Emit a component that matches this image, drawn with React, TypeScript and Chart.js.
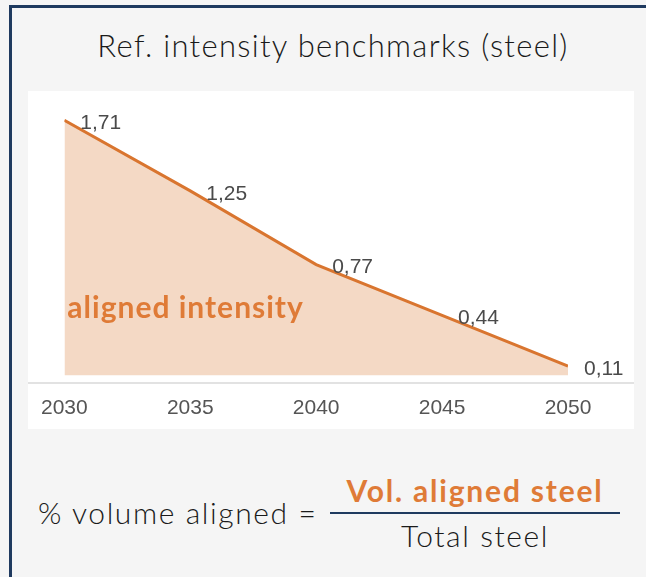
import React, { useEffect, useRef } from "react";
import { Chart, registerables } from "chart.js";

Chart.register(...registerables);

const years = [2030, 2035, 2040, 2045, 2050];
const intensity = [1.71, 1.25, 0.77, 0.44, 0.11];
const valueLabels = ["1,71", "1,25", "0,77", "0,44", "0,11"];
const titleText = "Ref. intensity benchmarks (steel)";
const areaLabel = "aligned intensity";

const ORANGE_LINE = "#d9752f";
const ORANGE_TEXT = "#df7b37";
const PEACH = "#f4d9c5";
const NAVY = "#1f3a5f";

const decorPlugin = {
  id: "decor",
  afterDraw(chart: any) {
    const { ctx, chartArea, scales } = chart;
    const meta = chart.getDatasetMeta(0);
    ctx.save();
    ctx.strokeStyle = "#e2e2e2";
    ctx.lineWidth = 2;
    ctx.beginPath();
    ctx.moveTo(0, chartArea.bottom);
    ctx.lineTo(chart.width, chartArea.bottom);
    ctx.stroke();
    ctx.fillStyle = "#4a4a4a";
    ctx.font = "21px 'Liberation Sans', Arial, sans-serif";
    ctx.textAlign = "left";
    ctx.textBaseline = "middle";
    meta.data.forEach((pt: any, i: number) => {
      ctx.fillText(valueLabels[i], pt.x + 16, pt.y + 3);
    });
    ctx.fillStyle = ORANGE_TEXT;
    ctx.font = "bold 30px Lato, sans-serif";
    (ctx as any).letterSpacing = "1px";
    ctx.textBaseline = "alphabetic";
    ctx.fillText(areaLabel, scales.x.getPixelForValue(years[0]) + 3, scales.y.getPixelForValue(0.42));
    ctx.restore();
  },
};

function LineChart() {
  const ref = useRef<HTMLCanvasElement | null>(null);
  useEffect(() => {
    if (!ref.current) return;
    const chart = new Chart(ref.current, {
      type: "line",
      data: {
        labels: years,
        datasets: [
          {
            data: years.map((y, i) => ({ x: y, y: intensity[i] })),
            borderColor: ORANGE_LINE,
            borderWidth: 3,
            backgroundColor: PEACH,
            fill: { value: 0.05 },
            pointRadius: 0,
            tension: 0,
          },
        ],
      },
      options: {
        animation: false,
        responsive: false,
        maintainAspectRatio: false,
        layout: { padding: { left: 33, right: 66, top: 0, bottom: 9 } },
        plugins: { legend: { display: false }, tooltip: { enabled: false } },
        scales: {
          x: {
            type: "linear",
            min: 2030,
            max: 2050,
            afterFit: (scale: any) => {
              scale.height = 37;
            },
            ticks: {
              stepSize: 5,
              color: "#555",
              font: { family: "'Liberation Sans', Arial, sans-serif", size: 21 },
              padding: 13,
              callback: (v: any) => String(v),
            },
            grid: { display: true, color: "transparent", drawTicks: false },
            border: { display: false },
          },
          y: {
            display: false,
            min: 0,
            max: 1.9,
          },
        },
      },
      plugins: [decorPlugin],
    });
    return () => chart.destroy();
  }, []);
  return <canvas ref={ref} width={606} height={338} style={{ display: "block" }} />;
}

export default function App() {
  const txt = { position: "absolute" as const, fontSize: 30, lineHeight: "32px", color: "#1a1a1a" };
  return (
    <div
      style={{
        position: "absolute",
        left: 0,
        top: 0,
        width: 646,
        height: 577,
        background: "#f5f5f5",
        overflow: "hidden",
        fontFamily: "Lato, sans-serif",
      }}
    >
      <div style={{ position: "absolute", left: 9, top: 5, width: 637, height: 3, background: NAVY }} />
      <div style={{ position: "absolute", left: 9, top: 5, width: 3, height: 572, background: NAVY }} />
      <div
        style={{
          ...txt,
          left: 20,
          width: 626,
          top: 28,
          fontSize: 31,
          lineHeight: "34px",
          textAlign: "center",
          fontWeight: 300,
          letterSpacing: "1.3px",
        }}
      >
        {titleText}
      </div>
      <div style={{ position: "absolute", left: 28, top: 91, width: 606, height: 338, background: "#fff" }}>
        <LineChart />
      </div>
      <div style={{ ...txt, left: 38, top: 496, fontWeight: 300, letterSpacing: "1.6px" }}>% volume aligned =</div>
      <div
        style={{
          ...txt,
          left: 330,
          width: 290,
          top: 474,
          textAlign: "center",
          fontWeight: 700,
          letterSpacing: "1.8px",
          color: ORANGE_TEXT,
        }}
      >
        Vol. aligned steel
      </div>
      <div style={{ position: "absolute", left: 330, top: 512, width: 290, height: 2, background: NAVY }} />
      <div
        style={{
          ...txt,
          left: 330,
          width: 290,
          top: 519,
          textAlign: "center",
          fontWeight: 300,
          letterSpacing: "1.6px",
        }}
      >
        Total steel
      </div>
    </div>
  );
}
